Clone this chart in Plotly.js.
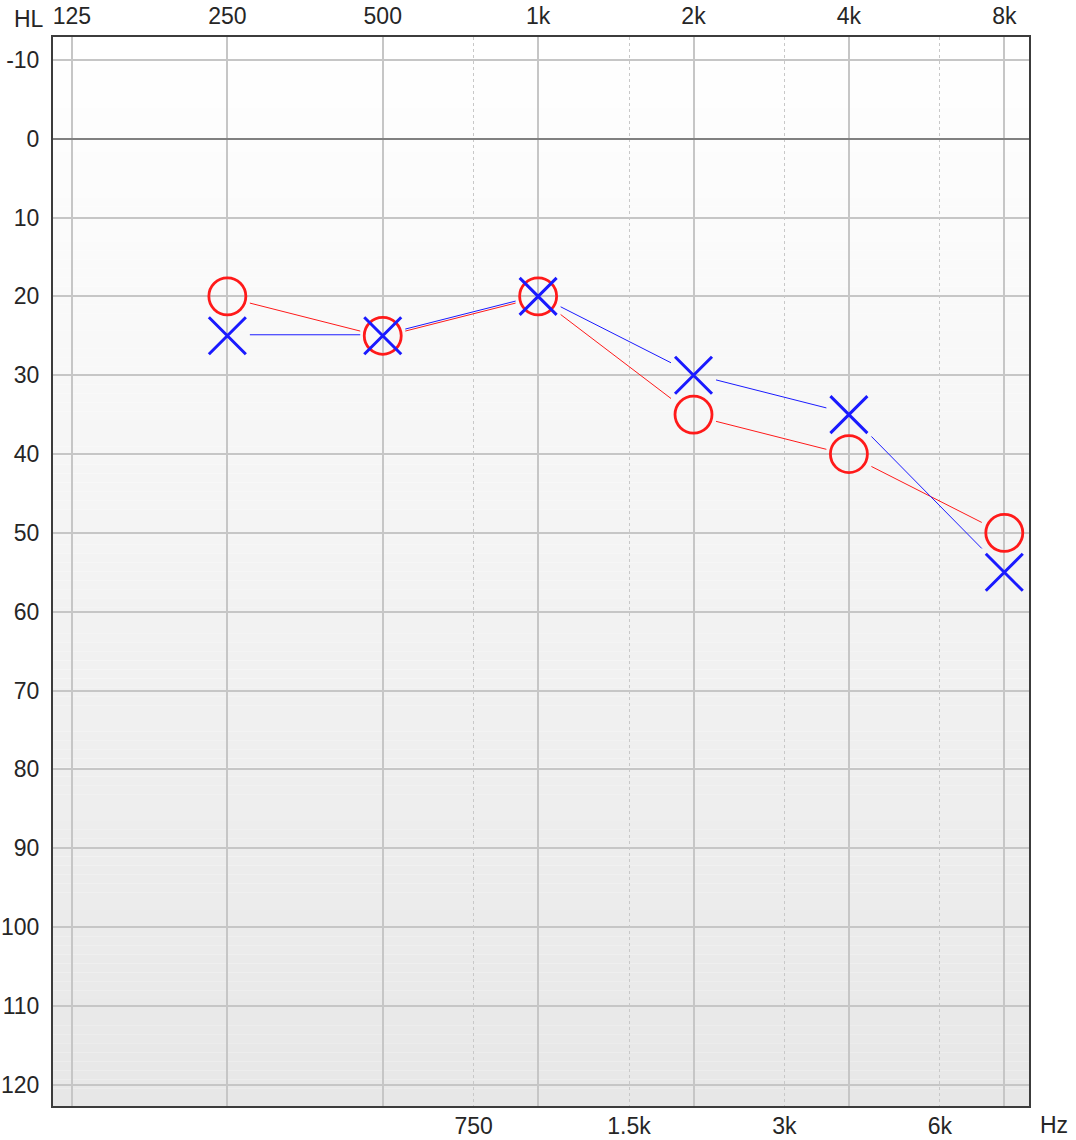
<!DOCTYPE html>
<html>
<head>
<meta charset="utf-8">
<script src="https://cdn.plot.ly/plotly-3.0.1.min.js"></script>
<style>
html,body{margin:0;padding:0;background:#fff;}
#chart{width:1076px;height:1140px;}
</style>
</head>
<body>
<div id="chart"></div>
<script>
// ---- data ----
const frequencies = [250, 500, 1000, 2000, 4000, 8000];
const rightEar = [20, 25, 20, 35, 40, 50];   // red O
const leftEar  = [25, 25, 20, 30, 35, 55];   // blue X
const octaveTicks = [125, 250, 500, 1000, 2000, 4000, 8000];
const octaveLabels = ['125', '250', '500', '1k', '2k', '4k', '8k'];
const halfOctaveTicks = [750, 1500, 3000, 6000];
const halfOctaveLabels = ['750', '1.5k', '3k', '6k'];
const dbTicks = [-10, 0, 10, 20, 30, 40, 50, 60, 70, 80, 90, 100, 110, 120];

// ---- geometry helpers (pixel scale of the plot area) ----
const PX_PER_OCT = 155.3;
const PX_PER_DB = 7.885;
const GAP = 22.5;
const Y_MIN = -12.9, Y_MAX = 122.7;
const X_RANGE = [Math.log10(125) - 0.122 * Math.log10(2), Math.log10(8000) + 0.159 * Math.log10(2)];

function gappedLine(freqs, vals, dyPx) {
  const xs = [], ys = [];
  for (let i = 0; i < freqs.length - 1; i++) {
    const a = Math.log2(freqs[i]), b = Math.log2(freqs[i + 1]);
    const oct = b - a;
    const t = GAP / (oct * PX_PER_OCT);
    const off = dyPx / PX_PER_DB;
    xs.push(Math.pow(2, a + t * oct), Math.pow(2, a + (1 - t) * oct), null);
    ys.push(vals[i] + t * (vals[i + 1] - vals[i]) + off,
            vals[i] + (1 - t) * (vals[i + 1] - vals[i]) + off, null);
  }
  return {xs, ys};
}

const redLine = gappedLine(frequencies, rightEar, 1);
const blueLine = gappedLine(frequencies, leftEar, -1);

// background gradient strips
const shapes = [];
const N = 120;
for (let i = 0; i < N; i++) {
  const y0 = Y_MIN + (Y_MAX - Y_MIN) * i / N;
  const y1 = Y_MIN + (Y_MAX - Y_MIN) * (i + 1) / N;
  const f = (i + 0.5) / N;
  const c = Math.round(255 - f * (255 - 231));
  shapes.push({type: 'rect', xref: 'paper', yref: 'y', x0: 0, x1: 1, y0: y0, y1: y1,
    layer: 'below', line: {width: 0}, fillcolor: `rgb(${c},${c},${c})`});
}

const FONT = {family: '"Liberation Sans", Arial, sans-serif', size: 23, color: '#262626'};

const traces = [
  {x: redLine.xs, y: redLine.ys, mode: 'lines', line: {color: '#ff1a1a', width: 1}, hoverinfo: 'skip', showlegend: false},
  {x: blueLine.xs, y: blueLine.ys, mode: 'lines', line: {color: '#1a1aff', width: 1}, hoverinfo: 'skip', showlegend: false},
  {x: frequencies, y: rightEar, mode: 'markers', showlegend: false,
   marker: {symbol: 'circle-open', size: 37, color: '#ff1a1a', line: {color: '#ff1a1a', width: 2.8}}},
  {x: frequencies, y: leftEar, mode: 'markers', showlegend: false,
   marker: {symbol: 'x-thin-open', size: 37, color: '#1a1aff', line: {color: '#1a1aff', width: 3}}},
  {x: halfOctaveTicks, y: halfOctaveTicks.map(() => null), xaxis: 'x2', mode: 'none', showlegend: false, hoverinfo: 'skip'}
];

const layout = {
  width: 1076, height: 1140,
  margin: {l: 53, r: 47, t: 37, b: 34},
  paper_bgcolor: '#ffffff',
  plot_bgcolor: 'rgba(0,0,0,0)',
  font: FONT,
  showlegend: false,
  xaxis: {
    type: 'log', range: X_RANGE, side: 'top',
    tickvals: octaveTicks, ticktext: octaveLabels,
    showgrid: true, gridcolor: '#c6c6c6', gridwidth: 2,
    ticks: '', ticklabelstandoff: 2,
    showline: true, linecolor: '#3c3c3c', linewidth: 2, mirror: true,
    zeroline: false, fixedrange: true, tickfont: FONT
  },
  xaxis2: {
    type: 'log', range: X_RANGE, side: 'bottom', overlaying: 'x', anchor: 'y',
    tickvals: halfOctaveTicks, ticktext: halfOctaveLabels,
    showgrid: true, gridcolor: '#c8c8c8', gridwidth: 1, griddash: 'dot',
    ticks: '', ticklabelstandoff: 4,
    showline: false, zeroline: false, fixedrange: true, tickfont: FONT
  },
  yaxis: {
    range: [Y_MAX, Y_MIN],
    tickvals: dbTicks, ticktext: dbTicks.map(String),
    showgrid: true, gridcolor: '#c6c6c6', gridwidth: 2,
    zeroline: true, zerolinecolor: '#808080', zerolinewidth: 2,
    ticks: '', ticklabelstandoff: 7,
    showline: true, linecolor: '#3c3c3c', linewidth: 2, mirror: true,
    fixedrange: true, tickfont: FONT
  },
  shapes: shapes,
  annotations: [
    {text: 'HL', xref: 'paper', yref: 'paper', x: -0.042, y: 1, yshift: 18, xanchor: 'left', yanchor: 'middle',
     showarrow: false, font: FONT},
    {text: 'Hz', xref: 'paper', yref: 'paper', x: 1.0095, y: 0, yshift: -19, xanchor: 'left', yanchor: 'middle',
     showarrow: false, font: FONT}
  ]
};

Plotly.newPlot('chart', traces, layout, {displayModeBar: false, staticPlot: true});
</script>
</body>
</html>
